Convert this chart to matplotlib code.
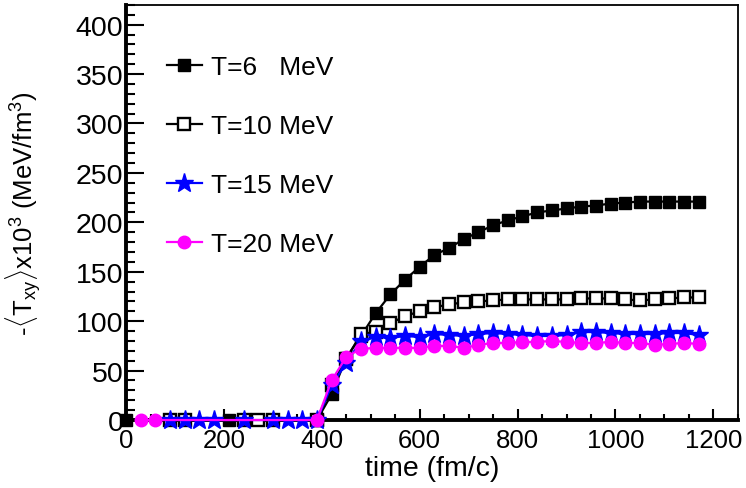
import numpy as np
import matplotlib
matplotlib.use('Agg')
import matplotlib.pyplot as plt
from matplotlib.ticker import MultipleLocator

plt.rcParams['font.family'] = ['Liberation Sans', 'DejaVu Sans']
plt.rcParams['mathtext.fontset'] = 'custom'
plt.rcParams['mathtext.rm'] = 'Liberation Sans'
plt.rcParams['mathtext.it'] = 'Liberation Sans'

# times (fm/c) where the curves are sampled
t_tail = [390, 420, 450, 480, 510, 540, 570, 600, 630, 660, 690, 720, 750, 780,
          810, 840, 870, 900, 930, 960, 990, 1020, 1050, 1080, 1110, 1140, 1170]

# flat part before the rise (only the visible markers)
t6_head = [0, 210]
t10_head = [90, 120, 240, 270, 300]
t15_head = [90, 120, 150, 180, 240, 300, 330, 360]
t20_head = [30, 60]

# -<Txy> x 10^3 (MeV/fm^3)
T6 = [0, 26, 63, 85, 108, 127, 142, 155, 167, 174, 183, 190, 197, 202,
      206, 210, 212, 214, 216, 217, 219, 220, 221, 221, 221, 221, 221]
T10 = [0, 35, 62, 87, 89, 98, 105, 110, 114, 117, 119, 120, 121, 122,
       122, 122, 122, 122, 123, 123, 123, 122, 121, 122, 123, 124, 124]
T15 = [0, 35, 58, 80, 84, 83, 85, 84, 87, 86, 85, 87, 88, 87,
       86, 85, 85, 86, 89, 89, 88, 87, 87, 87, 88, 88, 86]
T20 = [0, 40, 64, 72, 73, 73, 73, 73, 75, 75, 73, 76, 78, 78,
       79, 79, 80, 79, 78, 78, 79, 78, 78, 76, 77, 78, 77]

labels = ['T=6   MeV', 'T=10 MeV', 'T=15 MeV', 'T=20 MeV']

fig = plt.figure(figsize=(7.46, 4.89), dpi=100)
ax = fig.add_axes([0.169, 0.139, 0.82, 0.849])

common = dict(lw=1.6, clip_on=False, zorder=3)
ax.plot(t6_head + t_tail, [0] * len(t6_head) + T6, color='black',
        marker='s', ms=8.5, mfc='black', mec='black', label=labels[0], **common)
ax.plot(t10_head + t_tail, [0] * len(t10_head) + T10, color='black',
        marker='s', ms=8.5, mfc='white', mec='black', mew=1.7, label=labels[1], **common)
ax.plot(t15_head + t_tail, [0] * len(t15_head) + T15, color='blue',
        marker='*', ms=14, mfc='blue', mec='blue', label=labels[2], **common)
ax.plot(t20_head + t_tail, [0] * len(t20_head) + T20, color='magenta',
        marker='o', ms=9, mfc='magenta', mec='magenta', label=labels[3], **common)

ax.set_xlim(0, 1250)
ax.set_ylim(0, 420)
ax.xaxis.set_major_locator(MultipleLocator(200))
ax.xaxis.set_minor_locator(MultipleLocator(50))
ax.yaxis.set_major_locator(MultipleLocator(50))
ax.yaxis.set_minor_locator(MultipleLocator(10))

ax.tick_params(axis='both', which='both', direction='in', top=False, right=False)
ax.tick_params(axis='x', which='major', length=8, width=1.5, pad=6, labelsize=18.5)
ax.tick_params(axis='x', which='minor', length=4, width=1.5)
ax.tick_params(axis='y', which='major', length=13, width=1.5, pad=2, labelsize=20.5)
ax.tick_params(axis='y', which='minor', length=6.5, width=1.5)

for s in ['left', 'bottom']:
    ax.spines[s].set_linewidth(2.8)
for s in ['top', 'right']:
    ax.spines[s].set_linewidth(1.3)

ax.set_xlabel('time (fm/c)', fontsize=20.5, labelpad=0)
ax.xaxis.set_label_coords(0.5, -0.085)
ax.set_ylabel(r'-$\langle$T$_{xy}\rangle$x10$^{3}$ (MeV/fm$^{3}$)', fontsize=18.5)
ax.yaxis.set_label_coords(-0.135, 0.5)

ax.legend(loc='upper left', bbox_to_anchor=(0.05, 0.905), frameon=False,
          fontsize=19, handlelength=1.3, handletextpad=0.35, labelspacing=1.33,
          borderaxespad=0)

fig.savefig('out.png', dpi=100)
